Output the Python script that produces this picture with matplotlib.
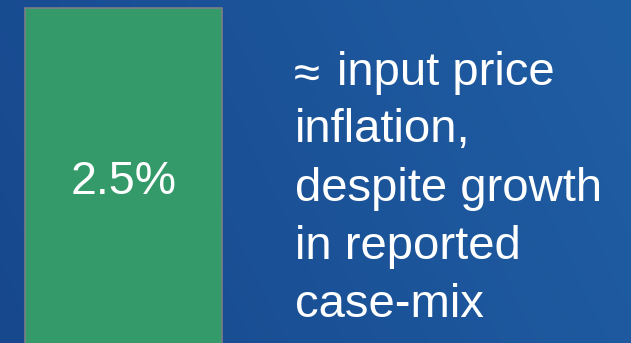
import numpy as np
import matplotlib
matplotlib.use("Agg")
import matplotlib.pyplot as plt

# data
categories = ["growth"]
values = [2.5]
bar_labels = ["2.5%"]
approx_sign = "\u2248"
note_lines = ["input price", "inflation,", "despite growth", "in reported", "case-mix"]

W, H = 631, 343
fig = plt.figure(figsize=(W / 100, H / 100), dpi=100)
plt.rcParams['font.family'] = ['Liberation Sans', 'DejaVu Sans']

# background gradient (pixel coordinates)
bg = fig.add_axes([0, 0, 1, 1])
bg.axis('off')
gx, gy = np.meshgrid(np.linspace(0, 1, 200), np.linspace(0, 1, 120))
t = np.clip(0.8 * gx + 0.2 * gy, 0, 1)
c0 = np.array([0x17, 0x48, 0x8d]) / 255
c1 = np.array([0x20, 0x5e, 0xa4]) / 255
img = c0[None, None, :] * (1 - t[..., None]) + c1[None, None, :] * t[..., None]
bg.imshow(img, extent=[0, W, 0, H], origin='lower', aspect='auto', zorder=0)
bg.set_xlim(0, W)
bg.set_ylim(0, H)

# bar axes
ax = fig.add_axes([25 / W, -0.01, 197 / W, (H - 8) / H + 0.01])
ax.set_xlim(-0.5, 0.5)
ax.set_ylim(0, values[0])
ax.axis('off')
ax.bar(0, values[0], width=1.0, color='#359a69', edgecolor='#7b7f85', linewidth=1.2, clip_on=False)
ax.text(0, 0.451, bar_labels[0], transform=ax.get_xaxis_transform(), ha='center', va='baseline',
        color='white', fontsize=33.5)

# note text
baselines = [85, 142, 201, 259, 317]
bg.text(294, H - 88, approx_sign, ha='left', va='baseline', color='white', fontsize=34)
xs = [337, 295, 295, 295, 295]
for line, x, yb in zip(note_lines, xs, baselines):
    bg.text(x, H - yb, line, ha='left', va='baseline', color='white', fontsize=34)

fig.savefig("out.png", dpi=100)
